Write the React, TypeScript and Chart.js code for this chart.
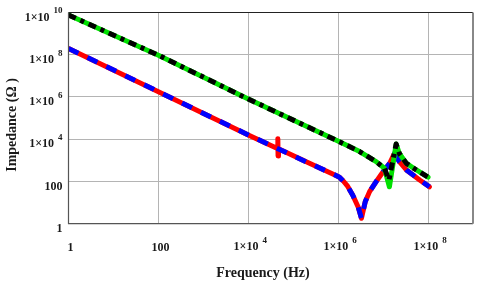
import React, { useEffect, useRef } from "react";
import { Chart, registerables } from "chart.js";

Chart.register(...registerables);

const xTickValues = [1, 100, 1e4, 1e6, 1e8];
const yTickValues = [1, 100, 1e4, 1e6, 1e8, 1e10];
const xTitle = "Frequency (Hz)";
const yTitle = "Impedance (Ω )";

// blue (dashed) curve
const blueFreq = [1, 1e4, 2.3e5, 8e5, 1.07e6, 1.3e6, 1.6e6, 2.1e6, 2.8e6, 3.3e6, 4e6, 5e6, 7e6, 1e7, 1.4e7, 1.78e7, 2.3e7, 3.3e7, 6.5e7, 1.07e8];
const blueZ = [2e8, 1.6e4, 720, 215, 160, 105, 62, 23, 6, 1.8, 11, 33, 98, 290, 720, 2100, 870, 350, 118, 56];

// red (solid) curve, with the small spike near 4.6e4 Hz
const redFreq = [1, 1e4, 4.45e4, 4.55e4, 4.6e4, 4.7e4, 2.3e5, 8e5, 1.07e6, 1.3e6, 1.6e6, 2.1e6, 2.8e6, 3.3e6, 4e6, 5e6, 7e6, 1e7, 1.4e7, 1.78e7, 2.3e7, 3.3e7, 6.5e7, 1.07e8];
const redZ = [2e8, 1.6e4, 3600, 1.05e4, 1.6e3, 3500, 720, 215, 160, 105, 62, 23, 6, 1.8, 11, 33, 98, 290, 720, 2100, 870, 350, 118, 56];

// black (dash-dot) curve
const blackFreq = [1, 100, 1e4, 1.07e6, 3e6, 7e6, 1.07e7, 1.35e7, 1.95e7, 2.3e7, 3.3e7, 5.5e7, 1e8];
const blackZ = [7.6e9, 9.5e7, 8e5, 7.6e3, 2.6e3, 870, 420, 117, 5900, 2100, 720, 350, 160];

// green (solid) curve
const greenFreq = [1, 100, 1e4, 1.07e6, 3e6, 7e6, 1.07e7, 1.38e7, 1.95e7, 2.3e7, 3.3e7, 5.5e7, 1e8];
const greenZ = [7.6e9, 9.5e7, 8e5, 7.6e3, 2.6e3, 870, 420, 56, 5900, 2100, 720, 350, 160];

const toPts = (xs: number[], ys: number[]) => xs.map((x, i) => ({ x, y: ys[i] }));

const labelPlugin = {
  id: "customLabels",
  afterDraw(chart: any) {
    const { ctx, chartArea: a } = chart;
    const xs = chart.scales.x;
    const ys = chart.scales.y;
    ctx.save();
    // frame
    ctx.lineWidth = 1.2;
    ctx.strokeStyle = "#222";
    ctx.beginPath();
    ctx.moveTo(a.left, a.top);
    ctx.lineTo(a.right, a.top);
    ctx.stroke();
    ctx.strokeStyle = "#555";
    ctx.beginPath();
    ctx.moveTo(a.left, a.top);
    ctx.lineTo(a.left, a.bottom);
    ctx.lineTo(a.right, a.bottom);
    ctx.stroke();
    ctx.strokeStyle = "#888";
    ctx.lineWidth = 2;
    ctx.beginPath();
    ctx.moveTo(a.right, a.top);
    ctx.lineTo(a.right, a.bottom);
    ctx.stroke();

    const baseFont = "bold 12px 'Liberation Serif'";
    const expFont = "bold 9px 'Liberation Serif'";
    const parts = (v: number): [string, string] => {
      const e = Math.round(Math.log10(v));
      if (e < 3) return [String(v), ""];
      return ["1×10", String(e)];
    };
    ctx.fillStyle = "#1a1a1a";
    ctx.textBaseline = "middle";
    // y labels
    yTickValues.forEach((v) => {
      const py = ys.getPixelForValue(v);
      const [b, e] = parts(v);
      ctx.font = expFont;
      const ew = e ? ctx.measureText(e).width + 4 : 0;
      const right = 62.5;
      ctx.font = baseFont;
      ctx.textAlign = "right";
      ctx.fillText(b, right - ew, py + 5);
      if (e) {
        ctx.font = expFont;
        ctx.textAlign = "left";
        ctx.fillText(e, right - ew + 4, py - 1.5);
      }
    });
    // x labels
    xTickValues.forEach((v) => {
      const px = xs.getPixelForValue(v);
      const [b, e] = parts(v);
      ctx.font = baseFont;
      const bw = ctx.measureText(b).width;
      ctx.font = expFont;
      const ew = e ? ctx.measureText(e).width + 4 : 0;
      const left = px + 2 - (bw + ew) / 2;
      ctx.font = baseFont;
      ctx.textAlign = "left";
      ctx.fillText(b, left, e ? 247 : 248);
      if (e) {
        ctx.font = expFont;
        ctx.fillText(e, left + bw + 4, 241);
      }
    });
    // titles
    ctx.font = "bold 14px 'Liberation Serif'";
    ctx.textAlign = "center";
    ctx.fillText(xTitle, 263, 273);
    ctx.translate(12, 125);
    ctx.rotate(-Math.PI / 2);
    ctx.fillText(yTitle, 0, 0);
    ctx.restore();
  },
};

export default function App() {
  const ref = useRef<HTMLCanvasElement | null>(null);
  useEffect(() => {
    if (!ref.current) return;
    const chart = new Chart(ref.current, {
      type: "scatter",
      data: {
        datasets: [
          {
            label: "black",
            data: toPts(blackFreq, blackZ),
            showLine: true,
            borderColor: "#000",
            borderWidth: 5,
            borderDash: [8, 5, 4, 5],
            pointRadius: 0,
            borderJoinStyle: "round",
          },
          {
            label: "green",
            data: toPts(greenFreq, greenZ),
            showLine: true,
            borderColor: "#00e000",
            borderWidth: 5,
            pointRadius: 0,
            borderJoinStyle: "round",
            borderCapStyle: "round",
          },
          {
            label: "blue",
            data: toPts(blueFreq, blueZ),
            showLine: true,
            borderColor: "#0000ff",
            borderWidth: 5,
            borderDash: [11, 10],
            pointRadius: 0,
            borderJoinStyle: "round",
          },
          {
            label: "red",
            data: toPts(redFreq, redZ),
            showLine: true,
            borderColor: "#ff0000",
            borderWidth: 5,
            pointRadius: 0,
            borderJoinStyle: "round",
            borderCapStyle: "round",
          },
        ],
      },
      options: {
        responsive: false,
        animation: false,
        layout: { padding: { left: 68.5, top: 12.5, right: 7, bottom: 69.3 } },
        plugins: { legend: { display: false }, tooltip: { enabled: false } },
        scales: {
          x: {
            type: "logarithmic",
            min: 1,
            max: 1e9,
            afterBuildTicks: (scale: any) => {
              scale.ticks = xTickValues.map((value) => ({ value }));
            },
            ticks: { display: false },
            grid: { color: "#b4b4b4", drawTicks: false, lineWidth: 1 },
            border: { display: false },
          },
          y: {
            type: "logarithmic",
            min: 1,
            max: 1e10,
            afterBuildTicks: (scale: any) => {
              scale.ticks = yTickValues.map((value) => ({ value }));
            },
            ticks: { display: false },
            grid: { color: "#b4b4b4", drawTicks: false, lineWidth: 1 },
            border: { display: false },
          },
        },
      },
      plugins: [labelPlugin],
    } as any);
    return () => chart.destroy();
  }, []);
  return (
    <canvas
      ref={ref}
      width={480}
      height={293}
      style={{ position: "absolute", left: 0, top: 0, width: 480, height: 293 }}
    />
  );
}
